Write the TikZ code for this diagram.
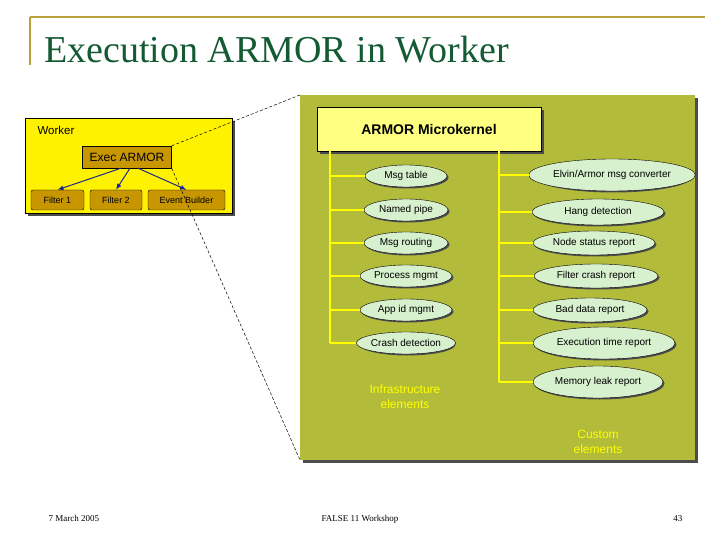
\documentclass[tikz,border=0pt]{standalone}
\usepackage{fontspec}
\setmainfont{Liberation Sans}
\newfontfamily\serifT{Liberation Serif}
\usetikzlibrary{shapes.geometric,arrows.meta}
\definecolor{gold}{RGB}{184,160,60}
\definecolor{ttl}{RGB}{20,90,50}
\definecolor{olive}{RGB}{178,188,58}
\definecolor{kern}{RGB}{255,255,130}
\definecolor{brn}{RGB}{200,150,0}
\definecolor{ell}{RGB}{215,240,205}
\definecolor{lin}{RGB}{255,255,0}
\definecolor{arr}{RGB}{30,40,140}
\tikzset{
 shad/.style={fill=black!70},
 ov/.style={ellipse,draw=black,fill=ell,inner sep=0pt,font=\fontsize{10}{11}\selectfont},
 fbox/.style={draw=black,fill=brn,rounded corners=2pt,minimum height=20pt,inner sep=1pt,font=\fontsize{9}{10}\selectfont},
 trunk/.style={lin,line width=1.2pt},
 dsh/.style={densely dashed,black,line width=0.5pt},
 lbl/.style={text=lin,font=\fontsize{12}{15}\selectfont,align=center},
 ar/.style={-{Latex[length=6pt,width=5pt,fill=blue]},line width=1pt,arr}
}
\begin{document}
\begin{tikzpicture}[x=1pt,y=-1pt]
\useasboundingbox (0,0) rectangle (720,540);
\fill[white] (0,0) rectangle (720,540);
% header
\draw[gold,line width=1.2pt] (30,17)--(705,17);
\draw[gold,line width=1.2pt] (30,17)--(30,65);
\node[anchor=base west,text=ttl,font=\serifT\fontsize{38}{42}\selectfont,inner sep=0] (title) at (44,63) {Execution ARMOR in Worker};
% green panel
\fill[shad] (303,98) rectangle (698,463);
\fill[olive] (300,95) rectangle (695,460);
% worker
\fill[shad] (28,121) rectangle (235,216);
\node[draw=black,fill=yellow,minimum width=207pt,minimum height=95pt,anchor=north west,inner sep=0] (worker) at (25,118) {};
\node[anchor=west,font=\fontsize{11.5}{13}\selectfont] (wl) at (34,130) {Worker};
\node[draw=black,fill=brn,minimum width=89pt,minimum height=22pt,inner sep=0,font=\fontsize{12}{13}\selectfont] (exec) at (127,157) {Exec ARMOR};
\node[fbox,minimum width=53pt] (f1) at (57.5,200) {Filter 1};
\node[fbox,minimum width=52pt] (f2) at (116,200) {Filter 2};
\node[fbox,minimum width=77pt] (eb) at (186.5,200) {Event Builder};
\draw[ar] (exec.south)+(-6,0) -- (f1.north);
\draw[ar] (exec.south)+(3,0) -- (f2.north);
\draw[ar] (exec.south)+(11,0) -- (eb.north);
% kernel
\fill[shad] (320,110) rectangle (544,154);
\node[draw=black,fill=kern,minimum width=224pt,minimum height=44pt,inner sep=0,font=\bfseries\fontsize{14}{16}\selectfont] (kern) at (429,129) {ARMOR Microkernel};
% dashed
\coordinate (p1) at (300,95);
\coordinate (p2) at (300,460);
\draw[dsh] (exec.north east) -- (p1);
\draw[dsh] (exec.south east) -- (p2);
% left
\draw[trunk] (330,151) -- (330,343);
\foreach \n/\y/\t/\w in {a/176/Msg table/82,b/210/Named pipe/84,c/243/Msg routing/84,d/276/Process mgmt/92,e/310/App id mgmt/92,f/343/Crash detection/96}{
  \fill[black!70] (407.5,\y+1.5) ellipse ({\w/2} and 11);
  \node[ov,minimum width=\w pt,minimum height=22pt] (\n) at (406,\y) {\t};
  \draw[trunk] (330,\y) -- (\n.west);
}
% right
\draw[trunk] (499,151) -- (499,382);
\foreach \n/\x/\y/\t/\w/\h in {g/612/175/{Elvin/Armor msg converter}/158/32,h/598/212/Hang detection/132/26,i/594/243/Node status report/122/24,j/596/276/Filter crash report/124/24,k/590/310/Bad data report/114/24,l/604/343/Execution time report/142/32,m/598/382/Memory leak report/130/32}{
  \fill[black!70] (\x+1.5,\y+1.5) ellipse ({\w/2} and {\h/2});
  \node[ov,minimum width=\w pt,minimum height=\h pt] (\n) at (\x,\y) {\t};
  \draw[trunk] (499,\y) -- (\n.west);
}
\node[lbl] (inf) at (405,397) {Infrastructure\\elements};
\node[lbl] (cus) at (598,442) {Custom\\elements};
% footer
\node[anchor=base west,font=\serifT\fontsize{9}{10}\selectfont] (d) at (45,521) {7 March 2005};
\node[anchor=base,font=\serifT\fontsize{9}{10}\selectfont] (w) at (360,521) {FALSE 11 Workshop};
\node[anchor=base east,font=\serifT\fontsize{9}{10}\selectfont] (pg) at (686,521) {43};
\end{tikzpicture}
\end{document}
